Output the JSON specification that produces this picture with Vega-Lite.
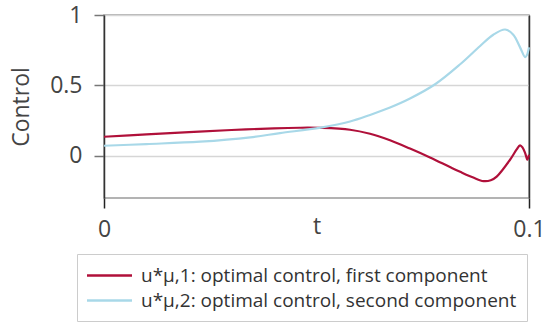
{
  "$schema": "https://vega.github.io/schema/vega-lite/v6.json",
  "width": 425,
  "height": 183,
  "autosize": {"type": "none"},
  "padding": {"left": 104, "top": 15, "right": 19, "bottom": 127},
  "background": "white",
  "config": {
    "font": "Open Sans",
    "view": {"stroke": "#9a9a9a", "strokeWidth": 1.5},
    "axis": {"labelFont": "Open Sans", "titleFont": "Open Sans", "labelColor": "#444", "titleColor": "#444", "titleFontWeight": "normal"}
  },
  "datasets": {
    "curves": [
      {"t": 0, "value": 0.135, "series": "u*μ,1: optimal control, first component"},
      {"t": 0.01, "value": 0.152, "series": "u*μ,1: optimal control, first component"},
      {"t": 0.02, "value": 0.168, "series": "u*μ,1: optimal control, first component"},
      {"t": 0.03, "value": 0.183, "series": "u*μ,1: optimal control, first component"},
      {"t": 0.04, "value": 0.195, "series": "u*μ,1: optimal control, first component"},
      {"t": 0.046, "value": 0.199, "series": "u*μ,1: optimal control, first component"},
      {"t": 0.051, "value": 0.198, "series": "u*μ,1: optimal control, first component"},
      {"t": 0.0579, "value": 0.185, "series": "u*μ,1: optimal control, first component"},
      {"t": 0.0626, "value": 0.156, "series": "u*μ,1: optimal control, first component"},
      {"t": 0.0673, "value": 0.11, "series": "u*μ,1: optimal control, first component"},
      {"t": 0.072, "value": 0.051, "series": "u*μ,1: optimal control, first component"},
      {"t": 0.0767, "value": -0.012, "series": "u*μ,1: optimal control, first component"},
      {"t": 0.0814, "value": -0.08, "series": "u*μ,1: optimal control, first component"},
      {"t": 0.0838, "value": -0.114, "series": "u*μ,1: optimal control, first component"},
      {"t": 0.0869, "value": -0.155, "series": "u*μ,1: optimal control, first component"},
      {"t": 0.0893, "value": -0.18, "series": "u*μ,1: optimal control, first component"},
      {"t": 0.091, "value": -0.174, "series": "u*μ,1: optimal control, first component"},
      {"t": 0.0924, "value": -0.148, "series": "u*μ,1: optimal control, first component"},
      {"t": 0.0955, "value": -0.03, "series": "u*μ,1: optimal control, first component"},
      {"t": 0.0971, "value": 0.045, "series": "u*μ,1: optimal control, first component"},
      {"t": 0.0979, "value": 0.074, "series": "u*μ,1: optimal control, first component"},
      {"t": 0.0985, "value": 0.058, "series": "u*μ,1: optimal control, first component"},
      {"t": 0.0991, "value": 0.019, "series": "u*μ,1: optimal control, first component"},
      {"t": 0.0996, "value": -0.028, "series": "u*μ,1: optimal control, first component"},
      {"t": 0.1, "value": 0.007, "series": "u*μ,1: optimal control, first component"},
      {"t": 0, "value": 0.071, "series": "u*μ,2: optimal control, second component"},
      {"t": 0.01, "value": 0.083, "series": "u*μ,2: optimal control, second component"},
      {"t": 0.0226, "value": 0.1, "series": "u*μ,2: optimal control, second component"},
      {"t": 0.0344, "value": 0.131, "series": "u*μ,2: optimal control, second component"},
      {"t": 0.0414, "value": 0.161, "series": "u*μ,2: optimal control, second component"},
      {"t": 0.051, "value": 0.2, "series": "u*μ,2: optimal control, second component"},
      {"t": 0.0579, "value": 0.243, "series": "u*μ,2: optimal control, second component"},
      {"t": 0.0626, "value": 0.29, "series": "u*μ,2: optimal control, second component"},
      {"t": 0.0673, "value": 0.343, "series": "u*μ,2: optimal control, second component"},
      {"t": 0.072, "value": 0.407, "series": "u*μ,2: optimal control, second component"},
      {"t": 0.078, "value": 0.51, "series": "u*μ,2: optimal control, second component"},
      {"t": 0.0838, "value": 0.65, "series": "u*μ,2: optimal control, second component"},
      {"t": 0.0885, "value": 0.78, "series": "u*μ,2: optimal control, second component"},
      {"t": 0.0916, "value": 0.86, "series": "u*μ,2: optimal control, second component"},
      {"t": 0.0944, "value": 0.897, "series": "u*μ,2: optimal control, second component"},
      {"t": 0.0963, "value": 0.86, "series": "u*μ,2: optimal control, second component"},
      {"t": 0.0979, "value": 0.77, "series": "u*μ,2: optimal control, second component"},
      {"t": 0.0991, "value": 0.7, "series": "u*μ,2: optimal control, second component"},
      {"t": 0.0995, "value": 0.715, "series": "u*μ,2: optimal control, second component"},
      {"t": 0.1, "value": 0.77, "series": "u*μ,2: optimal control, second component"}
    ]
  },
  "data": {"name": "curves"},
  "layer": [
    {
      "mark": {"type": "line", "strokeWidth": 2.2, "interpolate": "catmull-rom"},
      "encoding": {
        "x": {
          "field": "t", "type": "quantitative",
          "scale": {"domain": [0, 0.1], "nice": false, "zero": false},
          "axis": {
            "values": [0, 0.1], "format": "~g", "title": "t",
            "grid": false, "domain": false,
            "tickColor": "#222", "tickSize": 10, "tickWidth": 1.5,
            "labelFontSize": 23, "labelBaseline": "alphabetic", "labelPadding": 28,
            "labelFlush": false,
            "titleFontSize": 23, "titleBaseline": "alphabetic", "titleY": 35
          }
        },
        "y": {
          "field": "value", "type": "quantitative",
          "scale": {"domain": [-0.3, 1], "nice": false, "zero": false},
          "axis": {
            "values": [0, 0.5, 1], "format": "~g", "title": "Control",
            "grid": true, "gridColor": "#d6d6d6", "gridWidth": 1.5,
            "domain": true, "domainColor": "#333", "domainWidth": 1.5,
            "tickColor": "#777", "tickSize": 10, "tickWidth": 1.5,
            "labelFontSize": 23, "labelPadding": 12, "labelBaseline": "middle",
            "titleFontSize": 23, "titleAngle": -90, "titleBaseline": "alphabetic",
            "titleAlign": "center", "titleX": -76, "titleY": 91.5
          }
        },
        "color": {
          "field": "series", "type": "nominal",
          "scale": {
            "domain": ["u*μ,1: optimal control, first component", "u*μ,2: optimal control, second component"],
            "range": ["#b0103a", "#a8d8e8"]
          },
          "legend": {
            "orient": "none", "legendX": -27, "legendY": 239,
            "title": null, "direction": "vertical",
            "symbolType": "M-2.25,0H2.25", "symbolSize": 400, "symbolStrokeWidth": 2.5,
            "symbolOffset": 11, "labelOffset": 20,
            "labelFontSize": 19, "labelFont": "Open Sans", "labelColor": "#333", "labelLimit": 600,
            "rowPadding": 3, "padding": 10,
            "strokeColor": "#cccccc", "fillColor": "white"
          }
        }
      }
    },
    {
      "mark": {"type": "line", "opacity": 0},
      "encoding": {
        "x": {"field": "t", "type": "quantitative", "axis": null},
        "y": {
          "field": "value", "type": "quantitative",
          "axis": {
            "orient": "right", "title": null, "labels": false, "ticks": false, "grid": false,
            "domain": true, "domainColor": "#333", "domainWidth": 1.5
          }
        },
        "detail": {"field": "series"}
      }
    }
  ],
  "resolve": {"axis": {"y": "independent", "x": "independent"}}
}
